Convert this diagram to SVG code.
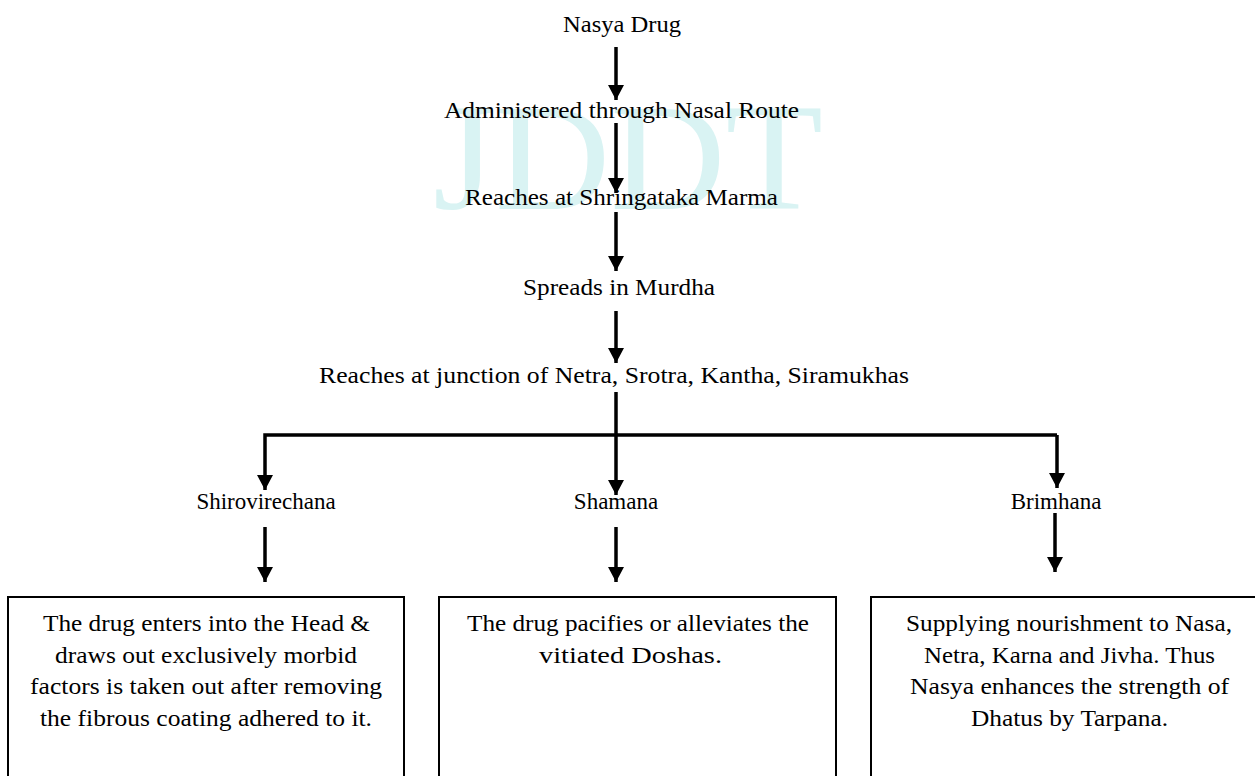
<svg xmlns="http://www.w3.org/2000/svg" width="1255" height="776" viewBox="0 0 1255 776">
<style>
  text { font-family: "Liberation Serif", "Times New Roman", serif; font-size: 23px; fill: #000; }
  .c { text-anchor: middle; }
  .wm { font-size: 152px; fill: #d9f3f3; }
  .conn { stroke: #000; stroke-width: 3.5; fill: none; }
  .box { stroke: #000; stroke-width: 2; fill: #fff; }
</style>
<defs>
  <marker id="arr" markerUnits="userSpaceOnUse" markerWidth="16" markerHeight="16" viewBox="0 0 16 16" refX="15" refY="8" orient="auto">
    <path d="M0,0 L15,8 L0,16 Z" fill="#000"/>
  </marker>
</defs>
<rect width="1255" height="776" fill="#fff"/>

<g id="watermark">
  <text class="wm" x="433" y="209" textLength="390" lengthAdjust="spacingAndGlyphs">JDDT</text>
</g>

<g id="connectors">
  <path class="conn" d="M616,47 V100" marker-end="url(#arr)"/>
  <path class="conn" d="M616,123 V193" marker-end="url(#arr)"/>
  <path class="conn" d="M616,212 V271" marker-end="url(#arr)"/>
  <path class="conn" d="M616,311 V363" marker-end="url(#arr)"/>
  <path class="conn" d="M616,392 V495" marker-end="url(#arr)"/>
  <path class="conn" d="M1057,435 H265 V490" marker-end="url(#arr)"/>
  <path class="conn" d="M1057,435 V488" marker-end="url(#arr)"/>
  <path class="conn" d="M265,527 V582" marker-end="url(#arr)"/>
  <path class="conn" d="M616,527 V582" marker-end="url(#arr)"/>
  <path class="conn" d="M1055,513 V572" marker-end="url(#arr)"/>
</g>

<g id="n-nasya"><text x="563" y="32" textLength="118" lengthAdjust="spacingAndGlyphs">Nasya Drug</text></g>
<g id="n-admin"><text x="444" y="118" textLength="355" lengthAdjust="spacingAndGlyphs">Administered through Nasal Route</text></g>
<g id="n-shring"><text x="465" y="205" textLength="313" lengthAdjust="spacingAndGlyphs">Reaches at Shringataka Marma</text></g>
<g id="n-murdha"><text class="c" x="619" y="295" textLength="192" lengthAdjust="spacingAndGlyphs">Spreads in Murdha</text></g>
<g id="n-junction"><text class="c" x="614" y="383" textLength="590" lengthAdjust="spacingAndGlyphs">Reaches at junction of Netra, Srotra, Kantha, Siramukhas</text></g>
<g id="n-shiro"><text class="c" x="266" y="509">Shirovirechana</text></g>
<g id="n-shamana"><text class="c" x="616" y="509">Shamana</text></g>
<g id="n-brimhana"><text class="c" x="1056" y="509">Brimhana</text></g>

<g id="box-left">
  <rect class="box" x="8" y="597" width="396" height="200"/>
  <text x="43" y="631" textLength="327" lengthAdjust="spacingAndGlyphs">The drug enters into the Head &amp;</text>
  <text x="55" y="662.5" textLength="302" lengthAdjust="spacingAndGlyphs">draws out exclusively morbid</text>
  <text x="30" y="694" textLength="352" lengthAdjust="spacingAndGlyphs">factors is taken out after removing</text>
  <text x="40" y="725.5" textLength="332" lengthAdjust="spacingAndGlyphs">the fibrous coating adhered to it.</text>
</g>
<g id="box-middle">
  <rect class="box" x="439" y="597" width="397" height="200"/>
  <text x="467" y="631" textLength="342" lengthAdjust="spacingAndGlyphs">The drug pacifies or alleviates the</text>
  <text x="539" y="662.5" textLength="183" lengthAdjust="spacingAndGlyphs">vitiated Doshas.</text>
</g>
<g id="box-right">
  <rect class="box" x="871" y="597" width="400" height="200"/>
  <text x="906" y="631" textLength="326" lengthAdjust="spacingAndGlyphs">Supplying nourishment to Nasa,</text>
  <text x="924" y="662.5" textLength="291" lengthAdjust="spacingAndGlyphs">Netra, Karna and Jivha. Thus</text>
  <text x="910" y="694" textLength="319" lengthAdjust="spacingAndGlyphs">Nasya enhances the strength of</text>
  <text x="971" y="725.5" textLength="197" lengthAdjust="spacingAndGlyphs">Dhatus by Tarpana.</text>
</g>
</svg>
